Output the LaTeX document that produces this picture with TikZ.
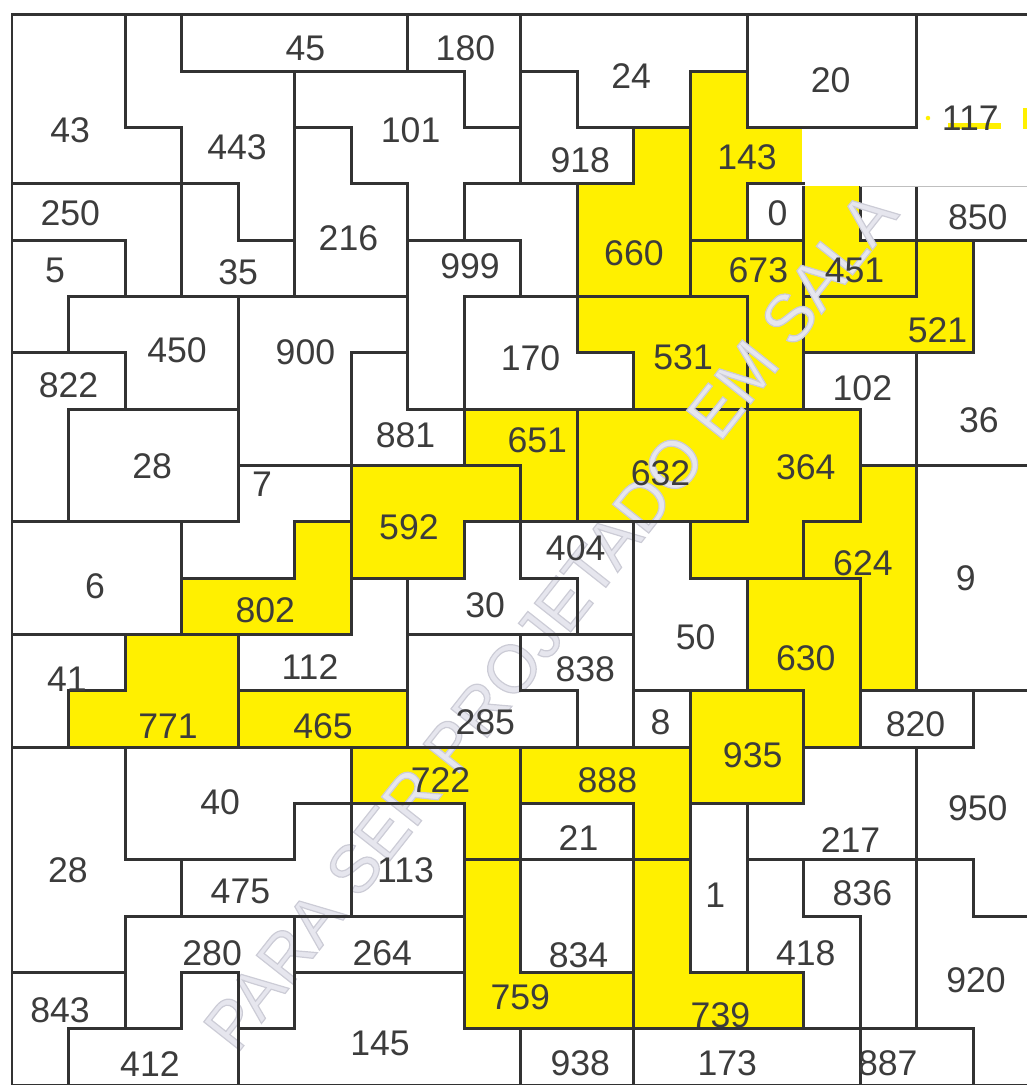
\documentclass[tikz,border=0pt]{standalone}
\usepackage{fontspec}
\setmainfont{Liberation Sans}
\definecolor{wallgray}{RGB}{50,50,50}
\definecolor{puzyellow}{RGB}{255,240,0}
\definecolor{numgray}{RGB}{60,60,60}
\definecolor{markgray}{RGB}{230,230,238}

\begin{document}
\begin{tikzpicture}[x=1.004cm, y=-1cm,
  wall/.style={draw=wallgray, line width=1.5pt, line join=miter},
  hilite/.style={wall, fill=puzyellow},
  num/.style={font=\fontsize{18}{18}\selectfont, text=numgray, inner sep=0pt}]
  \useasboundingbox (-0.212,-0.266) rectangle (17.95,19.0);
  \clip (-0.212,-0.266) rectangle (17.95,19.0);

  % yellow regions
  \filldraw[hilite] (11,2) -- (12,2) -- (12,5) -- (10,5) -- (10,3) -- (11,3) -- cycle;
  \filldraw[hilite] (12,1) -- (13,1) -- (13,2) -- (14,2) -- (14,3) -- (13,3) -- (13,4) -- (12,4) -- cycle;
  \filldraw[hilite] (12,4) -- (14,4) -- (14,7) -- (13,7) -- (13,5) -- (12,5) -- cycle;
  \filldraw[hilite] (14,3) -- (15,3) -- (15,4) -- (16,4) -- (16,5) -- (14,5) -- cycle;
  \filldraw[hilite] (16,4) -- (17,4) -- (17,6) -- (14,6) -- (14,5) -- (16,5) -- cycle;
  \filldraw[hilite] (10,5) -- (13,5) -- (13,7) -- (11,7) -- (11,6) -- (10,6) -- cycle;
  \filldraw[hilite] (8,7) -- (10,7) -- (10,9) -- (9,9) -- (9,8) -- (8,8) -- cycle;
  \filldraw[hilite] (10,7) rectangle (13,9);
  \filldraw[hilite] (13,7) -- (15,7) -- (15,9) -- (14,9) -- (14,10) -- (12,10) -- (12,9) -- (13,9) -- cycle;
  \filldraw[hilite] (15,8) -- (16,8) -- (16,12) -- (15,12) -- (15,10) -- (14,10) -- (14,9) -- (15,9) -- cycle;
  \filldraw[hilite] (6,8) -- (9,8) -- (9,9) -- (8,9) -- (8,10) -- (6,10) -- cycle;
  \filldraw[hilite] (5,9) -- (6,9) -- (6,11) -- (3,11) -- (3,10) -- (5,10) -- cycle;
  \filldraw[hilite] (13,10) -- (15,10) -- (15,13) -- (14,13) -- (14,12) -- (13,12) -- cycle;
  \filldraw[hilite] (12,12) rectangle (14,14);
  \filldraw[hilite] (2,11) -- (4,11) -- (4,13) -- (1,13) -- (1,12) -- (2,12) -- cycle;
  \filldraw[hilite] (4,12) rectangle (7,13);
  \filldraw[hilite] (6,13) -- (9,13) -- (9,15) -- (8,15) -- (8,14) -- (6,14) -- cycle;
  \filldraw[hilite] (9,13) -- (12,13) -- (12,15) -- (11,15) -- (11,14) -- (9,14) -- cycle;
  \filldraw[hilite] (8,15) -- (9,15) -- (9,17) -- (11,17) -- (11,18) -- (8,18) -- cycle;
  \filldraw[hilite] (11,15) -- (12,15) -- (12,17) -- (14,17) -- (14,18) -- (11,18) -- cycle;

  % watermark, hollow letters
  \node[rotate=51.7, text=markgray, font=\fontsize{34}{34}\selectfont] (mark) at (9.52,10.75)
    {\special{pdf:literal direct q 2 Tr 0.8 0.8 0.84 RG 0.6 w}PARA SER PROJETADO EM SALA\special{pdf:literal direct Q}};

  % white regions
  \draw[wall] (0,0) -- (2,0) -- (2,2) -- (3,2) -- (3,3) -- (0,3) -- cycle;
  \draw[wall] (2,0) -- (3,0) -- (3,1) -- (5,1) -- (5,4) -- (4,4) -- (4,3) -- (3,3) -- (3,2) -- (2,2) -- cycle;
  \draw[wall] (3,0) rectangle (7,1);
  \draw[wall] (7,0) -- (9,0) -- (9,2) -- (8,2) -- (8,1) -- (7,1) -- cycle;
  \draw[wall] (5,1) -- (8,1) -- (8,2) -- (9,2) -- (9,3) -- (8,3) -- (8,4) -- (7,4) -- (7,3) -- (6,3) -- (6,2) -- (5,2) -- cycle;
  \draw[wall] (5,2) -- (6,2) -- (6,3) -- (7,3) -- (7,5) -- (5,5) -- cycle;
  \draw[wall] (0,3) -- (3,3) -- (3,5) -- (2,5) -- (2,4) -- (0,4) -- cycle;
  \draw[wall] (0,4) -- (2,4) -- (2,5) -- (1,5) -- (1,6) -- (0,6) -- cycle;
  \draw[wall] (3,3) -- (4,3) -- (4,4) -- (5,4) -- (5,5) -- (3,5) -- cycle;
  \draw[wall] (7,4) -- (9,4) -- (9,5) -- (8,5) -- (8,7) -- (7,7) -- cycle;
  \draw[wall] (8,3) -- (10,3) -- (10,5) -- (9,5) -- (9,4) -- (8,4) -- cycle;
  \draw[wall] (9,1) -- (10,1) -- (10,2) -- (11,2) -- (11,3) -- (9,3) -- cycle;
  \draw[wall] (9,0) -- (13,0) -- (13,1) -- (12,1) -- (12,2) -- (10,2) -- (10,1) -- (9,1) -- cycle;
  \draw[wall] (13,0) rectangle (16,2);
  \draw[wall] (16,0) -- (18,0);
  \draw[wall] (13,3) rectangle (14,4);
  \draw[wall] (18,4) -- (16,4) -- (16,3);
  \draw[wall] (17,4) -- (18,4) -- (18,8) -- (16,8) -- (16,6) -- (17,6) -- cycle;
  \draw[wall] (14,6) -- (16,6) -- (16,8) -- (15,8) -- (15,7) -- (14,7) -- cycle;
  \draw[wall] (8,5) -- (10,5) -- (10,6) -- (11,6) -- (11,7) -- (8,7) -- cycle;
  \draw[wall] (1,5) -- (4,5) -- (4,7) -- (2,7) -- (2,6) -- (1,6) -- cycle;
  \draw[wall] (0,6) -- (2,6) -- (2,7) -- (1,7) -- (1,9) -- (0,9) -- cycle;
  \draw[wall] (4,5) -- (7,5) -- (7,6) -- (6,6) -- (6,8) -- (4,8) -- cycle;
  \draw[wall] (6,6) -- (7,6) -- (7,7) -- (8,7) -- (8,8) -- (6,8) -- cycle;
  \draw[wall] (1,7) rectangle (4,9);
  \draw[wall] (0,9) rectangle (3,11);
  \draw[wall] (4,8) -- (6,8) -- (6,9) -- (5,9) -- (5,10) -- (3,10) -- (3,9) -- (4,9) -- cycle;
  \draw[wall] (16,8) rectangle (18,12);
  \draw[wall] (9,9) -- (11,9) -- (11,11) -- (10,11) -- (10,10) -- (9,10) -- cycle;
  \draw[wall] (8,9) -- (9,9) -- (9,10) -- (10,10) -- (10,11) -- (7,11) -- (7,10) -- (8,10) -- cycle;
  \draw[wall] (11,9) -- (12,9) -- (12,10) -- (13,10) -- (13,12) -- (11,12) -- cycle;
  \draw[wall] (6,10) -- (7,10) -- (7,12) -- (4,12) -- (4,11) -- (6,11) -- cycle;
  \draw[wall] (0,11) -- (2,11) -- (2,12) -- (1,12) -- (1,13) -- (0,13) -- cycle;
  \draw[wall] (7,11) -- (9,11) -- (9,12) -- (10,12) -- (10,13) -- (7,13) -- cycle;
  \draw[wall] (9,11) -- (11,11) -- (11,13) -- (10,13) -- (10,12) -- (9,12) -- cycle;
  \draw[wall] (11,12) rectangle (12,13);
  \draw[wall] (15,12) rectangle (17,13);
  \draw[wall] (17,12) -- (18,12) -- (18,16) -- (17,16) -- (17,15) -- (16,15) -- (16,13) -- (17,13) -- cycle;
  \draw[wall] (14,13) -- (16,13) -- (16,15) -- (13,15) -- (13,14) -- (14,14) -- cycle;
  \draw[wall] (14,15) -- (16,15) -- (16,18) -- (15,18) -- (15,16) -- (14,16) -- cycle;
  \draw[wall] (16,15) -- (17,15) -- (17,16) -- (18,16) -- (18,19) -- (17,19) -- (17,18) -- (16,18) -- cycle;
  \draw[wall] (13,15) -- (14,15) -- (14,16) -- (15,16) -- (15,18) -- (14,18) -- (14,17) -- (13,17) -- cycle;
  \draw[wall] (12,14) rectangle (13,17);
  \draw[wall] (9,14) rectangle (11,15);
  \draw[wall] (9,15) rectangle (11,17);
  \draw[wall] (6,14) rectangle (8,16);
  \draw[wall] (5,16) rectangle (8,17);
  \draw[wall] (5,17) -- (8,17) -- (8,18) -- (9,18) -- (9,19) -- (4,19) -- (4,18) -- (5,18) -- cycle;
  \draw[wall] (9,18) rectangle (11,19);
  \draw[wall] (11,18) rectangle (15,19);
  \draw[wall] (15,18) rectangle (17,19);
  \draw[wall] (0,13) -- (2,13) -- (2,15) -- (3,15) -- (3,16) -- (2,16) -- (2,17) -- (0,17) -- cycle;
  \draw[wall] (2,13) -- (6,13) -- (6,14) -- (5,14) -- (5,15) -- (2,15) -- cycle;
  \draw[wall] (5,14) -- (6,14) -- (6,16) -- (3,16) -- (3,15) -- (5,15) -- cycle;
  \draw[wall] (2,16) -- (5,16) -- (5,18) -- (4,18) -- (4,17) -- (3,17) -- (3,18) -- (2,18) -- cycle;
  \draw[wall] (3,17) -- (4,17) -- (4,19) -- (1,19) -- (1,18) -- (3,18) -- cycle;
  \draw[wall] (0,17) -- (2,17) -- (2,18) -- (1,18) -- (1,19) -- (0,19) -- cycle;

  % pasted white patch round 117
  \fill[white] (13.975,2.03) rectangle (18.1,3.04);
  \draw[wall] (13,3) -- (14.027,3);
  \draw[black!25, line width=0.5pt] (15,3.04) -- (18,3.04);
  \fill[puzyellow] (16.55,1.92) rectangle (17.5,2.03);
  \fill[puzyellow] (17.88,1.65) rectangle (18,2.03);
  \fill[puzyellow] (16.2,1.83) circle (0.04);

  % numbers
  \node[num] (n43) at (1.03,2.04) {43};
  \node[num] (n443) at (3.98,2.34) {443};
  \node[num] (n45) at (5.19,0.59) {45};
  \node[num] (n180) at (8.02,0.59) {180};
  \node[num] (n101) at (7.05,2.04) {101};
  \node[num] (n216) at (5.95,3.96) {216};
  \node[num] (n250) at (1.03,3.52) {250};
  \node[num] (n5) at (0.76,4.53) {5};
  \node[num] (n35) at (4.0,4.56) {35};
  \node[num] (n999) at (8.1,4.47) {999};
  \node[num] (n918) at (10.05,2.58) {918};
  \node[num] (n24) at (10.95,1.08) {24};
  \node[num] (n660) at (11.0,4.23) {660};
  \node[num] (n143) at (13.0,2.52) {143};
  \node[num] (n20) at (14.48,1.15) {20};
  \node[num] (n117) at (16.95,1.84) {117};
  \node[num] (n0) at (13.54,3.52) {0};
  \node[num] (n673) at (13.2,4.53) {673};
  \node[num] (n451) at (14.9,4.53) {451};
  \node[num] (n850) at (17.08,3.6) {850};
  \node[num] (n521) at (16.37,5.6) {521};
  \node[num] (n36) at (17.1,7.19) {36};
  \node[num] (n102) at (15.04,6.63) {102};
  \node[num] (n531) at (11.87,6.07) {531};
  \node[num] (n170) at (9.17,6.09) {170};
  \node[num] (n450) at (2.92,5.95) {450};
  \node[num] (n822) at (1.0,6.57) {822};
  \node[num] (n900) at (5.19,5.99) {900};
  \node[num] (n881) at (6.96,7.46) {881};
  \node[num] (n28a) at (2.48,8.01) {28};
  \node[num] (n6) at (1.47,10.14) {6};
  \node[num] (n7) at (4.42,8.33) {7};
  \node[num] (n802) at (4.48,10.57) {802};
  \node[num] (n592) at (7.02,9.09) {592};
  \node[num] (n651) at (9.29,7.55) {651};
  \node[num] (n632) at (11.47,8.13) {632};
  \node[num] (n364) at (14.04,8.03) {364};
  \node[num] (n624) at (15.05,9.73) {624};
  \node[num] (n9) at (16.87,10.0) {9};
  \node[num] (n404) at (9.97,9.47) {404};
  \node[num] (n30) at (8.37,10.48) {30};
  \node[num] (n50) at (12.09,11.05) {50};
  \node[num] (n630) at (14.04,11.42) {630};
  \node[num] (n112) at (5.27,11.58) {112};
  \node[num] (n41) at (0.97,11.79) {41};
  \node[num] (n771) at (2.76,12.63) {771};
  \node[num] (n465) at (5.5,12.63) {465};
  \node[num] (n285) at (8.37,12.56) {285};
  \node[num] (n838) at (10.14,11.62) {838};
  \node[num] (n8) at (11.47,12.56) {8};
  \node[num] (n935) at (13.1,13.14) {935};
  \node[num] (n820) at (15.98,12.6) {820};
  \node[num] (n950) at (17.08,14.09) {950};
  \node[num] (n217) at (14.83,14.65) {217};
  \node[num] (n836) at (15.04,15.6) {836};
  \node[num] (n920) at (17.05,17.14) {920};
  \node[num] (n418) at (14.04,16.66) {418};
  \node[num] (n1) at (12.44,15.63) {1};
  \node[num] (n739) at (12.53,17.76) {739};
  \node[num] (n888) at (10.53,13.59) {888};
  \node[num] (n722) at (7.58,13.59) {722};
  \node[num] (n759) at (8.99,17.44) {759};
  \node[num] (n21) at (10.02,14.62) {21};
  \node[num] (n834) at (10.02,16.7) {834};
  \node[num] (n113) at (6.96,15.19) {113};
  \node[num] (n264) at (6.55,16.66) {264};
  \node[num] (n145) at (6.51,18.26) {145};
  \node[num] (n938) at (10.05,18.62) {938};
  \node[num] (n173) at (12.65,18.62) {173};
  \node[num] (n887) at (15.49,18.62) {887};
  \node[num] (n28b) at (0.99,15.19) {28};
  \node[num] (n40) at (3.68,13.98) {40};
  \node[num] (n475) at (4.04,15.57) {475};
  \node[num] (n280) at (3.54,16.66) {280};
  \node[num] (n412) at (2.44,18.62) {412};
  \node[num] (n843) at (0.85,17.67) {843};
\end{tikzpicture}
\end{document}
